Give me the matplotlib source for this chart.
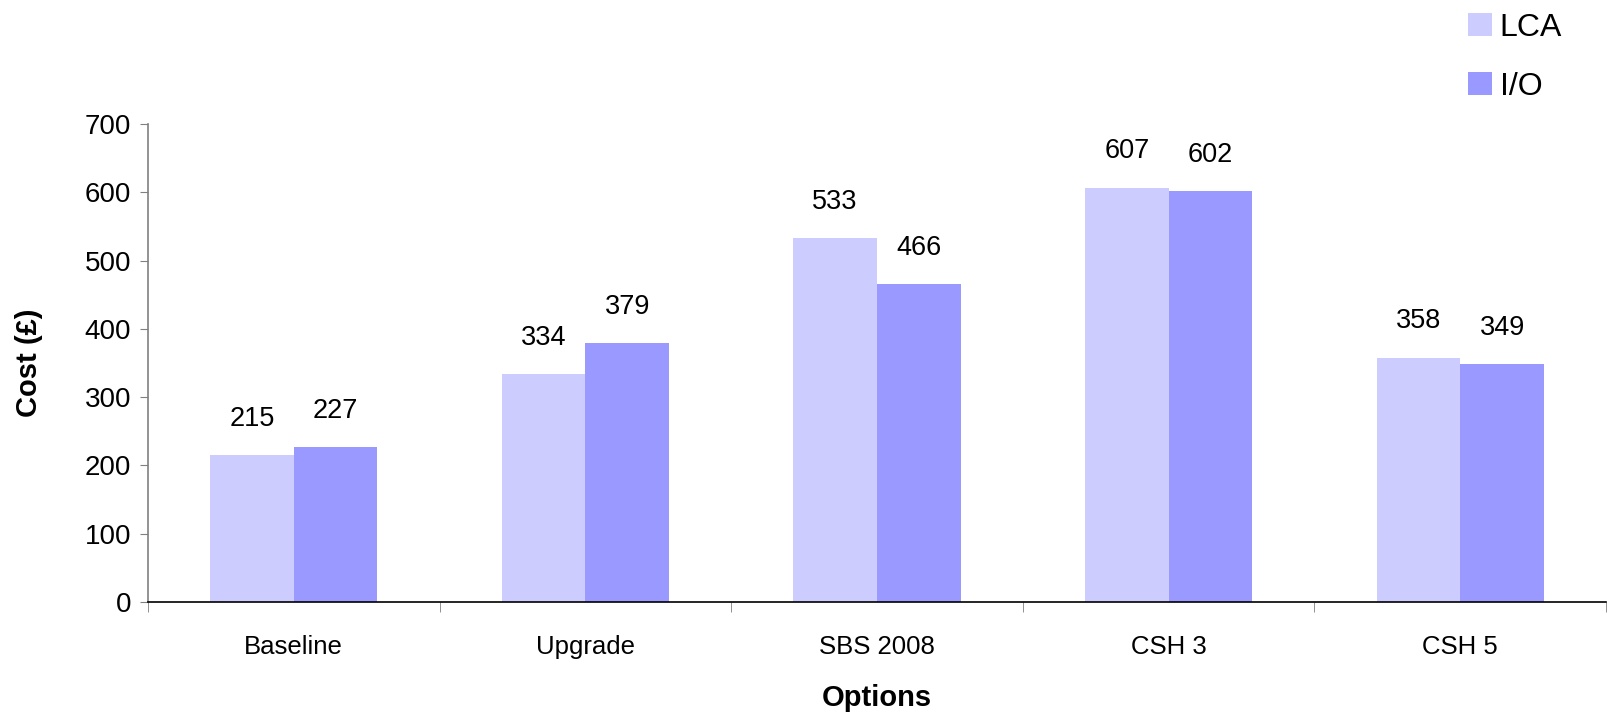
import matplotlib
matplotlib.use("Agg")
import matplotlib.pyplot as plt
import numpy as np
from matplotlib.patches import Patch

categories = ["Baseline", "Upgrade", "SBS 2008", "CSH 3", "CSH 5"]
lca = [215, 334, 533, 607, 358]
io = [227, 379, 466, 602, 349]
series_names = ["LCA", "I/O"]
colors = ["#CCCCFF", "#9999FF"]

plt.rcParams["font.family"] = ["Liberation Sans", "DejaVu Sans"]

fig = plt.figure(figsize=(16.08, 7.12), dpi=100)
ax = fig.add_axes([148 / 1608, 1 - 602 / 712, 1458 / 1608, 478 / 712])

x = np.arange(len(categories))
w = 0.287
bars1 = ax.bar(x - w / 2, lca, w, color=colors[0], edgecolor="none")
bars2 = ax.bar(x + w / 2, io, w, color=colors[1], edgecolor="none")

for bars, vals in [(bars1, lca), (bars2, io)]:
    for b, v in zip(bars, vals):
        ax.annotate(str(v), (b.get_x() + b.get_width() / 2, v),
                    xytext=(0, 26), textcoords="offset points",
                    ha="center", va="center", fontsize=19.5)

ax.set_xlim(-0.5, len(categories) - 0.5)
ax.set_ylim(0, 700)
ax.set_yticks(range(0, 701, 100))
ax.tick_params(axis="y", labelsize=20, length=6, color="#808080", pad=6)

ax.set_xticks(x)
ax.set_xticklabels(categories)
ax.tick_params(axis="x", which="major", length=0, labelsize=18.5, pad=24)
ax.set_xticks(np.arange(-0.5, len(categories)), minor=True)
ax.tick_params(axis="x", which="minor", length=7, color="#808080")

for s in ["top", "right"]:
    ax.spines[s].set_visible(False)
ax.spines["left"].set_color("#808080")
ax.spines["left"].set_linewidth(1.2)
ax.spines["bottom"].set_color("black")
ax.spines["bottom"].set_linewidth(1.2)

ax.set_ylabel("Cost (£)", fontsize=21, fontweight="bold", labelpad=30)
ax.set_xlabel("Options", fontsize=21, fontweight="bold", labelpad=18)

handles = [Patch(facecolor=c, edgecolor="none") for c in colors]
fig.legend(handles, series_names, loc="upper left",
           bbox_to_anchor=(1455 / 1608, 1.0), frameon=False, fontsize=23,
           handlelength=0.75, handleheight=0.75, handletextpad=0.25,
           labelspacing=0.9, borderaxespad=0.0)

fig.savefig("out.png", dpi=100)
